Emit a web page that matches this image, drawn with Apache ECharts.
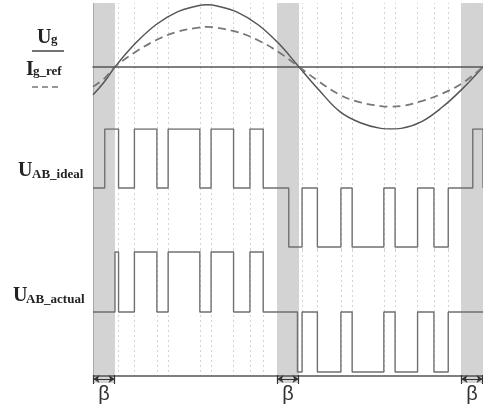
<!DOCTYPE html>
<html>
<head>
<meta charset="utf-8">
<title>ECharts</title>
<script src="https://cdn.jsdelivr.net/npm/echarts@6/dist/echarts.min.js"></script>
<style>html,body{margin:0;padding:0;background:#fff;}</style>
</head>
<body>
<div id="main" style="width:483px;height:410px;"></div>
<script type="text/javascript">
    // angle axis in degrees, beta = width of the grey dead zones
    var BETA = 21.5;
    var X_MIN = -BETA, X_MAX = 360;

    var curveDeg = [-21.5, -10, 0, 20, 40, 60, 80, 90, 100, 120, 140, 160, 180, 200, 220, 240, 260, 270, 280, 300, 320, 340, 360];
    var ugValues = [-0.45, -0.23, 0, 0.38, 0.68, 0.88, 0.98, 1.0, 0.98, 0.88, 0.68, 0.38, 0, -0.38, -0.72, -0.9, -0.99, -1.0, -0.99, -0.88, -0.65, -0.35, 0];
    var igValues = [-0.32, -0.18, 0, 0.24, 0.43, 0.56, 0.63, 0.645, 0.63, 0.56, 0.43, 0.24, 0, -0.24, -0.45, -0.57, -0.63, -0.64, -0.63, -0.55, -0.43, -0.26, 0];

    // pulses: [start deg, end deg, level]
    var idealPulses = [[-10, 3.5, 1], [19, 41, 1], [52, 83, 1], [94, 116, 1], [132, 145, 1],
        [170, 183, -1], [198, 221, -1], [232, 263, -1], [274, 296, -1], [312, 326, -1], [350, 360, 1]];
    var actualPulses = [[0, 3.5, 1], [19, 41, 1], [52, 83, 1], [94, 116, 1], [132, 145, 1],
        [178.5, 183, -1], [198, 221, -1], [232, 263, -1], [274, 296, -1], [312, 326, -1]];

    // grey dead-zone bands and dotted switching instants
    var bands = [[-BETA, 0], [180 - BETA, 180], [360 - BETA, 360]];
    var edges = [-10, 3.5, 19, 41, 52, 83, 94, 116, 132, 145, 170, 183, 198, 221, 232, 263, 274, 296, 312, 326, 350];

    // levels in the lowest grid (below the actual waveform)
    var Y2_MAX = 1.0333, Y2_MIN = -1.6333;
    var BOTTOM = -1.0667, BAND_BOTTOM = -1.1833, ARROW_Y = -1.1167, BETA_Y = -1.3667;

    var LINE = '#555', PULSE = '#707070', DOT = '#d2d2d2', BAND = '#d3d3d3';
    var SERIF = 'Liberation Serif';

    function zip(xs, ys) {
        var out = [];
        for (var i = 0; i < xs.length; i++) out.push([xs[i], ys[i]]);
        return out;
    }

    function pulseLine(pulses) {
        var pts = [[X_MIN, 0]];
        for (var i = 0; i < pulses.length; i++) {
            var p = pulses[i];
            pts.push([p[0], 0], [p[0], p[2]], [p[1], p[2]], [p[1], 0]);
        }
        pts.push([X_MAX, 0]);
        return pts;
    }

    var dotStyle = {color: DOT, type: [2, 3], width: 1};
    var edgeStyle = {color: '#aaa', type: 'solid', width: 1};
    var fullBands = bands.map(function (b) { return [{xAxis: b[0]}, {xAxis: b[1]}]; });
    var fullDots = edges.map(function (x) { return {xAxis: x}; });
    fullDots.push({xAxis: X_MIN + 0.4, lineStyle: edgeStyle});

    // bottom grid markers: dotted lines stop at the bottom line, plus beta arrows
    var lowLines = edges.map(function (x) {
        return [{coord: [x, Y2_MAX]}, {coord: [x, BOTTOM]}];
    });
    lowLines.push([{coord: [X_MIN + 0.4, Y2_MAX], lineStyle: edgeStyle}, {coord: [X_MIN + 0.4, BAND_BOTTOM]}]);
    var lowSolid = [[{coord: [X_MIN, BOTTOM], lineStyle: {color: LINE, type: 'solid', width: 1.5}}, {coord: [X_MAX, BOTTOM]}]];
    bands.forEach(function (b) {
        lowSolid.push([{coord: [b[0] + 0.4, ARROW_Y], symbol: 'arrow', lineStyle: {color: '#333', type: 'solid', width: 1}},
            {coord: [b[1] - 0.4, ARROW_Y], symbol: 'arrow'}]);
        lowSolid.push([{coord: [b[0] + 0.4, -1.05], lineStyle: {color: '#333', type: 'solid', width: 1.2}}, {coord: [b[0] + 0.4, -1.2]}]);
        lowSolid.push([{coord: [b[1] - 0.4, -1.05], lineStyle: {color: '#333', type: 'solid', width: 1.2}}, {coord: [b[1] - 0.4, -1.2]}]);
    });

    var myChart = echarts.init(document.getElementById('main'));

    function xAx(idx, show) {
        return {
            type: 'value', gridIndex: idx, min: X_MIN, max: X_MAX, z: 3,
            axisLine: {show: show, onZero: true, lineStyle: {color: LINE, width: 1.5}},
            axisTick: {show: false}, axisLabel: {show: false}, splitLine: {show: false}
        };
    }
    function yAx(idx, min, max) {
        return {
            type: 'value', gridIndex: idx, min: min, max: max,
            axisLine: {show: false}, axisTick: {show: false}, axisLabel: {show: false}, splitLine: {show: false}
        };
    }

    var option = {
        animation: false,
        backgroundColor: '#fff',
        grid: [
            {left: 93, right: 0, top: 3, height: 126, outerBoundsMode: 'none'},
            {left: 93, right: 0, top: 129, height: 121, outerBoundsMode: 'none'},
            {left: 93, right: 0, top: 250, height: 160, outerBoundsMode: 'none'}
        ],
        xAxis: [xAx(0, true), xAx(1, false), xAx(2, false)],
        yAxis: [yAx(0, -1, 1.03), yAx(1, -1.05, 1), yAx(2, Y2_MIN, Y2_MAX)],
        graphic: [
            {type: 'text', x: 37, y: 37.5, style: {text: 'U', fontSize: 20, fontWeight: 'bold', fontFamily: SERIF, fill: '#222', verticalAlign: 'middle'}},
            {type: 'text', x: 51, y: 40, style: {text: 'g', fontSize: 13, fontWeight: 'bold', fontFamily: SERIF, fill: '#222', verticalAlign: 'middle'}},
            {type: 'line', shape: {x1: 32, y1: 51, x2: 64, y2: 51}, style: {stroke: '#444', lineWidth: 1.5}},
            {type: 'text', x: 26, y: 70, style: {text: 'I', fontSize: 20, fontWeight: 'bold', fontFamily: SERIF, fill: '#222', verticalAlign: 'middle'}},
            {type: 'text', x: 33, y: 72, style: {text: 'g_ref', fontSize: 13, fontWeight: 'bold', fontFamily: SERIF, fill: '#222', verticalAlign: 'middle'}},
            {type: 'line', shape: {x1: 32, y1: 87, x2: 62, y2: 87}, style: {stroke: '#777', lineWidth: 1.5, lineDash: [6, 4]}},
            {type: 'text', x: 18, y: 171, style: {text: 'U', fontSize: 20, fontWeight: 'bold', fontFamily: SERIF, fill: '#222', verticalAlign: 'middle'}},
            {type: 'text', x: 32, y: 175, style: {text: 'AB_ideal', fontSize: 13, fontWeight: 'bold', fontFamily: SERIF, fill: '#222', verticalAlign: 'middle'}},
            {type: 'text', x: 13, y: 296, style: {text: 'U', fontSize: 20, fontWeight: 'bold', fontFamily: SERIF, fill: '#222', verticalAlign: 'middle'}},
            {type: 'text', x: 26, y: 300, style: {text: 'AB_actual', fontSize: 13, fontWeight: 'bold', fontFamily: SERIF, fill: '#222', verticalAlign: 'middle'}}
        ],
        series: [
            {
                name: 'Ug', type: 'line', xAxisIndex: 0, yAxisIndex: 0, smooth: 0.4, showSymbol: false, z: 2,
                data: zip(curveDeg, ugValues),
                lineStyle: {color: LINE, width: 1.5},
                markArea: {silent: true, z: 0, itemStyle: {color: BAND}, data: fullBands},
                markLine: {silent: true, z: 1, symbol: 'none', label: {show: false}, lineStyle: dotStyle, data: fullDots}
            },
            {
                name: 'Ig_ref', type: 'line', xAxisIndex: 0, yAxisIndex: 0, smooth: 0.4, showSymbol: false, z: 2,
                data: zip(curveDeg, igValues),
                lineStyle: {color: '#777', width: 1.8, type: [8, 5]}
            },
            {
                name: 'UAB_ideal', type: 'line', xAxisIndex: 1, yAxisIndex: 1, showSymbol: false, z: 2,
                data: pulseLine(idealPulses),
                lineStyle: {color: PULSE, width: 1.4},
                markArea: {silent: true, z: 0, itemStyle: {color: BAND}, data: fullBands},
                markLine: {silent: true, z: 1, symbol: 'none', label: {show: false}, lineStyle: dotStyle, data: fullDots}
            },
            {
                name: 'UAB_actual', type: 'line', xAxisIndex: 2, yAxisIndex: 2, showSymbol: false, z: 2,
                data: pulseLine(actualPulses),
                lineStyle: {color: PULSE, width: 1.4},
                markArea: {
                    silent: true, z: 0, itemStyle: {color: BAND},
                    data: bands.map(function (b) { return [{coord: [b[0], Y2_MAX]}, {coord: [b[1], BAND_BOTTOM]}]; })
                },
                markLine: {silent: true, z: 1, symbol: 'none', label: {show: false}, lineStyle: dotStyle, data: lowLines}
            },
            {
                name: 'beta', type: 'line', xAxisIndex: 2, yAxisIndex: 2, showSymbol: false, z: 3,
                data: [[X_MIN, BOTTOM]],
                lineStyle: {opacity: 0},
                markLine: {silent: true, z: 4, symbol: 'none', symbolSize: 6, label: {show: false}, data: lowSolid},
                markPoint: {
                    silent: true, symbol: 'rect', symbolSize: 1, itemStyle: {color: 'rgba(0,0,0,0)'},
                    label: {show: true, position: 'inside', formatter: 'β', fontSize: 20, fontFamily: 'Liberation Sans', color: '#333'},
                    data: bands.map(function (b) { return {coord: [(b[0] + b[1]) / 2, BETA_Y]}; })
                }
            }
        ]
    };

    myChart.setOption(option);
</script>
</body>
</html>
